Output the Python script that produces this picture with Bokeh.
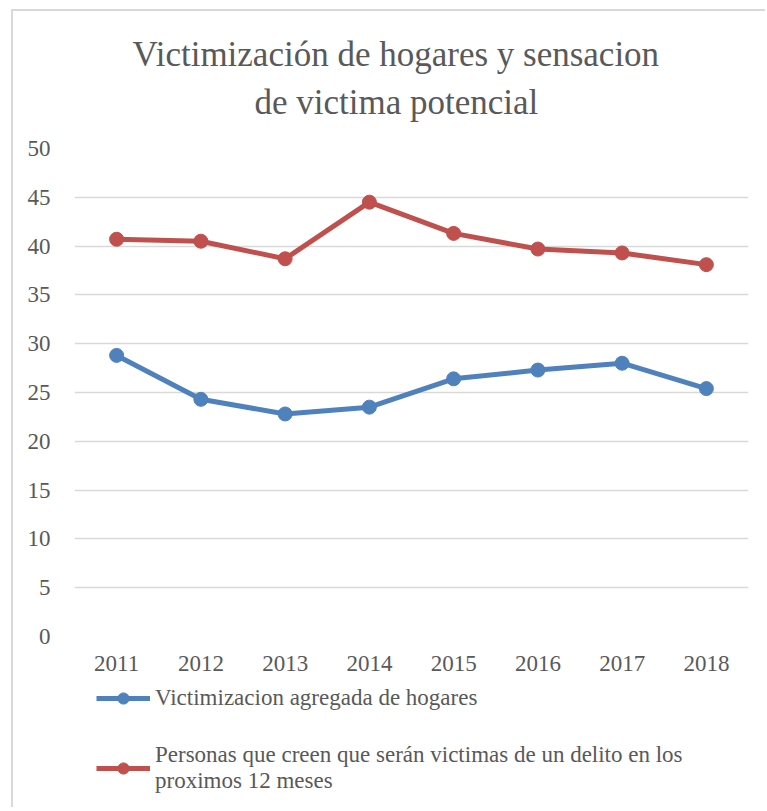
from bokeh.plotting import figure
from bokeh.layouts import column
from bokeh.models import (Range1d, FactorRange, FixedTicker, Title, Legend, LegendItem)
from bokeh.embed import file_html
from bokeh.resources import INLINE

# ---- data ----
years = ["2011", "2012", "2013", "2014", "2015", "2016", "2017", "2018"]
victimizacion = [28.8, 24.3, 22.8, 23.5, 26.4, 27.3, 28.0, 25.4]
sensacion = [40.7, 40.5, 38.7, 44.5, 41.3, 39.7, 39.3, 38.1]
y_ticks = [0, 5, 10, 15, 20, 25, 30, 35, 40, 45, 50]
label_victim = "Victimizacion agregada de hogares"
label_sens = "Personas que creen que serán victimas de un delito en los\nproximos 12 meses"
title_1 = "Victimización de hogares y sensacion"
title_2 = "de victima potencial"

BLUE = "#4F81BD"
RED = "#C0504D"
TXT = "#595959"
GRID = "#d9d9d9"
SERIF = "Liberation Serif"

# ---------------- main chart ----------------
p = figure(width=752, height=671, output_backend="svg", toolbar_location=None,
           x_range=FactorRange(*years, range_padding=0),
           y_range=Range1d(0, 50),
           min_border_left=61, min_border_right=17, min_border_top=137,
           min_border_bottom=46)
p.outline_line_color = None
p.background_fill_color = "white"
p.border_fill_color = "white"

# titles: spacer closest to the frame, then line 2, then line 1
spacer = Title(text=" ", align="center", text_font_size="2px", standoff=16)
t2 = Title(text=title_2, align="left", offset=180, text_font=SERIF, text_font_size="35px",
           text_font_style="normal", text_color=TXT, standoff=14)
t1 = Title(text=title_1, align="left", offset=58, text_font=SERIF, text_font_size="35px",
           text_font_style="normal", text_color=TXT, standoff=0)
p.add_layout(spacer, "above")
p.add_layout(t2, "above")
p.add_layout(t1, "above")

p.yaxis.ticker = FixedTicker(ticks=y_ticks)
p.yaxis.axis_line_color = None
p.yaxis.major_tick_line_color = None
p.yaxis.minor_tick_line_color = None
p.yaxis.major_tick_out = 0
p.yaxis.major_label_standoff = 24
p.yaxis.major_label_text_font = SERIF
p.yaxis.major_label_text_font_size = "23px"
p.yaxis.major_label_text_color = TXT

p.xaxis.axis_line_color = None
p.xaxis.major_tick_line_color = None
p.xaxis.minor_tick_line_color = None
p.xaxis.major_tick_out = 0
p.xaxis.major_label_standoff = 19
p.xaxis.major_label_text_font = SERIF
p.xaxis.major_label_text_font_size = "23px"
p.xaxis.major_label_text_color = TXT

p.xgrid.grid_line_color = None
p.ygrid.grid_line_color = GRID
p.ygrid.grid_line_width = 1.5

p.line(years, victimizacion, line_color=BLUE, line_width=5)
p.scatter(years, victimizacion, size=14, fill_color=BLUE, line_color=BLUE)
p.line(years, sensacion, line_color=RED, line_width=5)
p.scatter(years, sensacion, size=14, fill_color=RED, line_color=RED)

# ---------------- legend strip ----------------
# same series drawn into a strip whose y range lies outside the data, so only the legend shows
q = figure(width=752, height=125, output_backend="svg", toolbar_location=None,
           x_range=p.x_range, y_range=Range1d(1000, 1001),
           x_axis_location=None, y_axis_location=None,
           min_border_left=0, min_border_right=0, min_border_top=0, min_border_bottom=0)
q.outline_line_color = None
q.grid.grid_line_color = None
q.background_fill_color = "white"
q.border_fill_color = "white"
ql1 = q.line(years, victimizacion, line_color=BLUE, line_width=5)
qc1 = q.scatter(years, victimizacion, size=14, fill_color=BLUE, line_color=BLUE)
ql2 = q.line(years, sensacion, line_color=RED, line_width=5)
qc2 = q.scatter(years, sensacion, size=14, fill_color=RED, line_color=RED)

legend = Legend(items=[LegendItem(label=label_victim, renderers=[ql1, qc1]),
                       LegendItem(label=label_sens, renderers=[ql2, qc2])],
                location=(22, 13), orientation="vertical",
                border_line_color=None, background_fill_alpha=0,
                padding=0, margin=0, spacing=30,
                glyph_width=54, glyph_height=28, label_standoff=5,
                label_text_font=SERIF, label_text_font_size="23px",
                label_text_color=TXT)
q.add_layout(legend, "center")

layout = column(p, q, spacing=0)
layout.styles = {"border-left": f"2px solid {GRID}", "border-top": f"2px solid {GRID}",
                 "margin-left": "11px", "margin-top": "9px", "box-sizing": "content-box"}

open("out.html", "w").write(file_html(layout, INLINE))
